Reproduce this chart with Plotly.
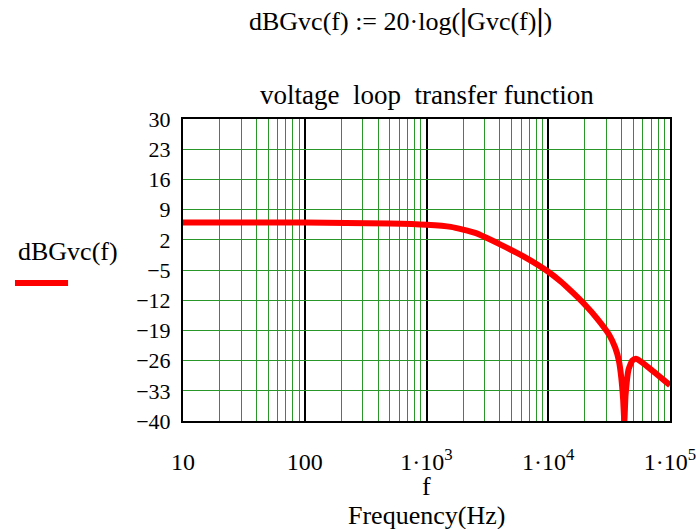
import plotly.graph_objects as go

# Data
freq_hz = [10, 100, 500, 1000, 1585, 2512, 3981, 6310, 10000, 12590, 15850,
           19950, 25120, 31620, 35480, 38020, 39810, 41210, 42170, 43150,
           45710, 48980, 52480, 57540, 70790, 100000]
gain_db = [6.0, 6.0, 5.8, 5.5, 5.0, 3.6, 1.0, -1.9, -5.4, -7.6, -10.2,
           -13.0, -16.2, -20.0, -23.0, -26.0, -30.0, -35.0, -40.0, -34.0,
           -28.0, -26.0, -25.6, -26.2, -28.2, -31.7]

y_ticks = [30, 23, 16, 9, 2, -5, -12, -19, -26, -33, -40]
y_tick_text = ["30", "23", "16", "9", "2", "\u22125", "\u221212", "\u221219",
               "\u221226", "\u221233", "\u221240"]
x_ticks = [10, 100, 1000, 10000, 100000]
x_tick_text = ["10", "100", "1\u00b710<sup>3</sup>", "1\u00b710<sup>4</sup>",
               "1\u00b710<sup>5</sup>"]
x_minor = [m * 10 ** d for d in range(1, 5) for m in range(2, 10)]

FONT = "Liberation Serif"
GREEN = "rgb(40,150,40)"

fig = go.Figure()
fig.add_trace(go.Scatter(
    x=freq_hz, y=gain_db, mode="lines",
    line=dict(color="red", width=6, shape="spline", smoothing=0.5),
    cliponaxis=True, showlegend=False,
))

fig.update_layout(
    width=696, height=529,
    margin=dict(l=183, r=26, t=119, b=108, autoexpand=False),
    paper_bgcolor="white", plot_bgcolor="white",
    font=dict(family=FONT, size=22, color="black"),
    showlegend=False,
)

fig.update_xaxes(
    type="log", range=[1, 5], automargin=False,
    tickvals=x_ticks, ticktext=x_tick_text,
    showgrid=True, gridcolor="black", gridwidth=2,
    minor=dict(tickvals=x_minor, showgrid=True, gridcolor=GREEN, gridwidth=1,
               ticks=""),
    showline=True, linecolor="black", linewidth=2, mirror=True,
    ticks="", ticklabelstandoff=18, zeroline=False,
    ticklabeloverflow="allow",
    tickfont=dict(family=FONT, size=24),
)
fig.update_yaxes(
    range=[-40, 30], automargin=False,
    tickvals=y_ticks, ticktext=y_tick_text,
    showgrid=True, gridcolor=GREEN, gridwidth=1,
    showline=True, linecolor="black", linewidth=2, mirror=True,
    ticks="", ticklabelstandoff=6, zeroline=False,
    tickfont=dict(family=FONT, size=22),
)

NB = "\u00a0"
BAR = '<span style="font-size:32px"><b>|</b></span>'
annotations = [
    dict(text=f"dBGvc(f){NB}:={NB}20\u00b7log({BAR}Gvc(f){BAR})",
         x=0.446, y=1.33,
         xref="paper", yref="paper", xanchor="center", yanchor="middle",
         showarrow=False, font=dict(family=FONT, size=26)),
    dict(text=f"voltage{NB}{NB}loop{NB}{NB}transfer function", x=0.501, y=1.08,
         xref="paper", yref="paper", xanchor="center", yanchor="middle",
         showarrow=False, font=dict(family=FONT, size=27)),
    dict(text="dBGvc(f)", x=-0.236, y=0.56, xref="paper", yref="paper",
         xanchor="center", yanchor="middle",
         showarrow=False, font=dict(family=FONT, size=26)),
    dict(text="f", x=0.5, y=-0.218, xref="paper", yref="paper",
         xanchor="center", yanchor="middle",
         showarrow=False, font=dict(family=FONT, size=26)),
    dict(text="Frequency(Hz)", x=0.5, y=-0.313, xref="paper", yref="paper",
         xanchor="center", yanchor="middle",
         showarrow=False, font=dict(family=FONT, size=26)),
]
fig.update_layout(annotations=annotations)
fig.add_shape(type="line", xref="paper", yref="paper",
              x0=-0.345, x1=-0.236, y0=0.457, y1=0.457,
              line=dict(color="red", width=6))

fig.write_html("out.html")
